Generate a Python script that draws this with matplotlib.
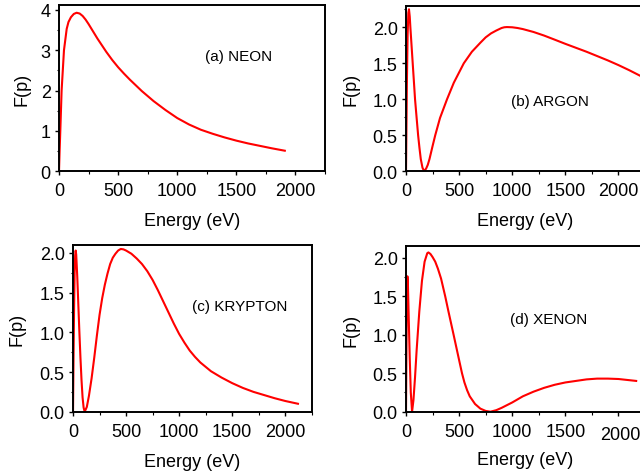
import matplotlib
matplotlib.use("Agg")
import matplotlib.pyplot as plt
import matplotlib.transforms as mtransforms
from matplotlib.ticker import MultipleLocator, FormatStrFormatter

plt.rcParams['font.family'] = ['Liberation Sans', 'DejaVu Sans']

# energy (eV) and F(p) for each gas
neon_e = [0, 5, 11, 22, 42, 65, 80, 101, 125, 149, 175, 200, 225, 250, 275,
          300, 325, 350, 400, 450, 500, 550, 600, 650, 700, 800, 900, 1000,
          1100, 1200, 1300, 1400, 1500, 1600, 1700, 1800, 1910]
neon_f = [0, 0.5, 1.0, 2.0, 3.0, 3.53, 3.7, 3.82, 3.9, 3.93, 3.91, 3.85, 3.76,
          3.65, 3.53, 3.41, 3.29, 3.18, 2.96, 2.76, 2.58, 2.42, 2.27, 2.13,
          1.99, 1.74, 1.52, 1.32, 1.16, 1.03, 0.93, 0.84, 0.76, 0.69, 0.63,
          0.57, 0.51]

argon_e = [0, 4, 8, 15, 22, 28, 35, 41, 52, 63, 75, 85, 100, 114, 127, 139,
           155, 171, 190, 205, 221, 250, 275, 320, 386, 450, 544, 620, 703, 750,
           800, 850, 900, 925, 950, 1000, 1050, 1100, 1200, 1300, 1400, 1500,
           1600, 1700, 1800, 1900, 2000, 2100, 2200, 2250]
argon_f = [0, 0.6, 1.2, 1.9, 2.2, 2.25, 2.15, 2.0, 1.75, 1.5, 1.23, 1.0, 0.74,
           0.5, 0.32, 0.17, 0.05, 0, 0.04, 0.09, 0.17, 0.35, 0.5, 0.74, 1.0,
           1.23, 1.5, 1.66, 1.79, 1.86, 1.915, 1.955, 1.99, 2.0, 2.003, 2.0,
           1.99, 1.975, 1.935, 1.885, 1.828, 1.77, 1.715, 1.66, 1.6, 1.54,
           1.475, 1.405, 1.33, 1.29]

krypton_e = [0, 5, 10, 15, 20, 25, 30, 40, 50, 60, 70, 80, 90, 100, 110, 130,
             150, 175, 200, 225, 250, 275, 300, 325, 350, 375, 400, 425, 450,
             475, 500, 550, 600, 650, 700, 750, 800, 850, 900, 950, 1000, 1050,
             1100, 1150, 1200, 1300, 1400, 1500, 1600, 1700, 1800, 1900, 2000,
             2120]
krypton_f = [0, 0.7, 1.3, 1.75, 1.97, 2.03, 1.98, 1.7, 1.35, 1.0, 0.68, 0.4,
             0.18, 0.05, 0, 0.06, 0.2, 0.42, 0.68, 0.96, 1.22, 1.43, 1.6, 1.74,
             1.86, 1.94, 1.99, 2.03, 2.05, 2.045, 2.03, 1.99, 1.93, 1.86, 1.77,
             1.66, 1.53, 1.39, 1.25, 1.11, 0.98, 0.87, 0.77, 0.69, 0.62, 0.51,
             0.43, 0.36, 0.3, 0.25, 0.21, 0.17, 0.135, 0.1]

xenon_e = [0, 4, 8, 13, 18, 25, 35, 45, 57, 70, 85, 100, 125, 150, 175, 200,
           211, 230, 250, 275, 300, 330, 369, 400, 448, 500, 527, 550, 575, 600,
           650, 700, 750, 795, 850, 900, 1000, 1100, 1200, 1300, 1400, 1500,
           1600, 1700, 1800, 1900, 2000, 2100, 2167]
xenon_f = [0, 0.8, 1.45, 1.76, 1.65, 1.25, 0.7, 0.25, 0, 0.15, 0.45, 0.8, 1.3,
           1.7, 1.95, 2.06, 2.07, 2.05, 2.01, 1.95, 1.86, 1.73, 1.5, 1.3, 1.0,
           0.67, 0.5, 0.38, 0.28, 0.2, 0.1, 0.04, 0.01, 0, 0.02, 0.05, 0.12,
           0.2, 0.26, 0.31, 0.35, 0.38, 0.4, 0.42, 0.43, 0.43, 0.425, 0.41, 0.40]

panel_labels = ['(a) NEON', '(b) ARGON', '(c) KRYPTON', '(d) XENON']

fig = plt.figure(figsize=(6.4, 4.77), dpi=100)

panels = [
    # rect, energies, values, ymax, ymajor, yminor, yfmt, label pos, ylabel x, xlabel pad
    ([0.0922, 0.6388, 0.4156, 0.3493], neon_e, neon_f, 4.13, 1, 0.5, '%d', (1518, 2.86), -0.109, 9.3),
    ([0.6344, 0.6388, 0.3734, 0.3472], argon_e, argon_f, 2.3, 0.5, 0.25, '%.1f', (1355, 0.98), -0.196, 9.3),
    ([0.1141, 0.1348, 0.3730, 0.3495], krypton_e, krypton_f, 2.1, 0.5, 0.25, '%.1f', (1575, 1.33), -0.197, 9.3),
    ([0.6344, 0.1348, 0.3734, 0.3468], xenon_e, xenon_f, 2.15, 0.5, 0.25, '%.1f', (1346, 1.21), -0.196, 5.5),
]

axes = []
for (rect, e, f, ymax, ymaj, ymin, fmt, lpos, ylx, xpad), name in zip(panels, panel_labels):
    ax = fig.add_axes(rect)
    ax.plot(e, f, color='red', lw=1.5)
    ax.set_xlim(0, 2250)
    ax.set_ylim(0, ymax)
    ax.xaxis.set_major_locator(MultipleLocator(500))
    ax.xaxis.set_minor_locator(MultipleLocator(250))
    ax.yaxis.set_major_locator(MultipleLocator(ymaj))
    ax.yaxis.set_minor_locator(MultipleLocator(ymin))
    ax.yaxis.set_major_formatter(FormatStrFormatter(fmt))
    ax.tick_params(which='major', length=3, width=1, labelsize=13)
    ax.tick_params(which='minor', length=1.8, width=0.8)
    ax.tick_params(axis='x', pad=5)
    ax.tick_params(axis='y', pad=3)
    for sp in ax.spines.values():
        sp.set_linewidth(1.4)
    ax.set_xlabel('Energy (eV)', fontsize=13, labelpad=xpad)
    ax.set_ylabel('F(p)', fontsize=13)
    ax.yaxis.set_label_coords(ylx, 0.5)
    ax.text(lpos[0], lpos[1], name, fontsize=11, ha='center', va='center')
    axes.append(ax)

# the 2000 label on the xenon panel sits a little low
fig.canvas.draw()
tk = [t for t in axes[3].xaxis.get_major_ticks() if abs(t.get_loc() - 2000) < 1][0]
tk.label1.set_transform(tk.label1.get_transform() +
                        mtransforms.ScaledTranslation(0.02, -0.035, fig.dpi_scale_trans))

fig.savefig('out.png', dpi=100)
